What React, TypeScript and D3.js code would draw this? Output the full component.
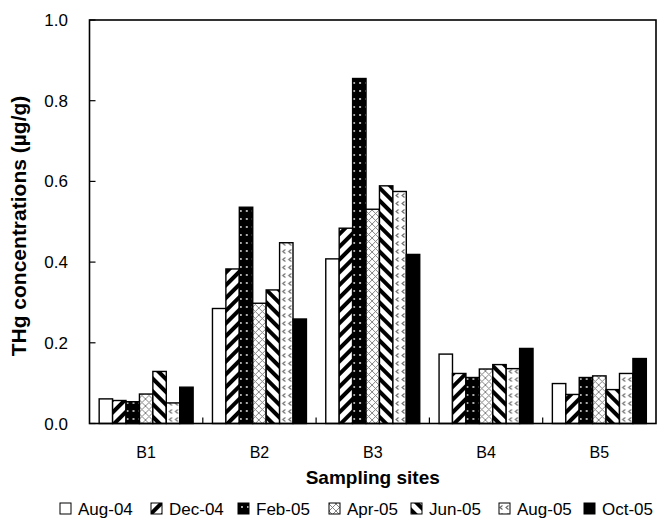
import React from "react";
import * as d3 from "d3";

const sites = ["B1", "B2", "B3", "B4", "B5"];
const seriesNames = ["Aug-04", "Dec-04", "Feb-05", "Apr-05", "Jun-05", "Aug-05", "Oct-05"];
const aug04 = [0.061, 0.285, 0.408, 0.172, 0.099];
const dec04 = [0.057, 0.383, 0.484, 0.124, 0.072];
const feb05 = [0.054, 0.536, 0.855, 0.114, 0.114];
const apr05 = [0.073, 0.298, 0.531, 0.135, 0.118];
const jun05 = [0.129, 0.331, 0.589, 0.146, 0.084];
const aug05 = [0.051, 0.448, 0.575, 0.136, 0.124];
const oct05 = [0.09, 0.259, 0.419, 0.186, 0.161];
const yTicks = [0, 0.2, 0.4, 0.6, 0.8, 1.0];

const seriesValues = [aug04, dec04, feb05, apr05, jun05, aug05, oct05];
const fills = ["#fff", "url(#pDec)", "url(#pFeb)", "url(#pApr)", "url(#pJun)", "url(#pAug5)", "#000"];
const legendX = [60, 151, 238, 329, 411, 499, 584];

export default function App() {
  const W = 665, H = 526;
  const left = 89.5, right = 656, top = 20, bottom = 423.5;
  const x = d3.scaleBand().domain(sites).range([left, right]).paddingInner(0).paddingOuter(0);
  const inner = d3.scaleBand().domain(seriesNames).range([0, x.bandwidth()]).paddingOuter(0.72).paddingInner(0);
  const y = d3.scaleLinear().domain([0, 1]).range([bottom, top]);
  const font = "'Liberation Sans', Arial, sans-serif";

  return (
    <svg width={W} height={H} style={{ position: "absolute", left: 0, top: 0 }} fontFamily={font}>
      <defs>
        <pattern id="pDec" patternUnits="userSpaceOnUse" width="9" height="9" patternTransform="rotate(45)">
          <rect width="9" height="9" fill="#fff" />
          <rect x="0" width="4" height="9" fill="#000" />
        </pattern>
        <pattern id="pJun" patternUnits="userSpaceOnUse" width="9" height="9" patternTransform="rotate(-45)">
          <rect width="9" height="9" fill="#fff" />
          <rect x="0" width="4" height="9" fill="#000" />
        </pattern>
        <pattern id="pFeb" patternUnits="userSpaceOnUse" width="6" height="8">
          <rect width="6" height="8" fill="#000" />
          <circle cx="2" cy="3" r="0.9" fill="#fff" />
        </pattern>
        <pattern id="pApr" patternUnits="userSpaceOnUse" width="7" height="7">
          <rect width="7" height="7" fill="#fff" />
          <path d="M0,0L7,7M7,0L0,7" stroke="#777" strokeWidth="0.9" />
        </pattern>
        <pattern id="pAug5" patternUnits="userSpaceOnUse" width="6" height="8">
          <rect width="6" height="8" fill="#fff" />
          <path d="M4.5,1.5L2,3.5L4.5,5.5" stroke="#666" strokeWidth="1.1" fill="none" />
        </pattern>
      </defs>
      <rect x={0} y={0} width={W} height={H} fill="#fff" />
      {sites.map((s, i) => (
        <g key={s} transform={`translate(${x(s)},0)`}>
          {seriesNames.map((n, j) => {
            const v = seriesValues[j][i];
            return (
              <rect
                key={n}
                x={inner(n)}
                y={y(v)}
                width={inner.bandwidth()}
                height={bottom - y(v)}
                fill={fills[j]}
                stroke="#000"
                strokeWidth={1.4}
              />
            );
          })}
        </g>
      ))}
      <rect x={left} y={top} width={right - left} height={bottom - top} fill="none" stroke="#000" strokeWidth={1.6} />
      {yTicks.map((t) => (
        <g key={t}>
          <line x1={left} x2={left + 6} y1={y(t)} y2={y(t)} stroke="#000" strokeWidth={1.2} />
          <text x={68} y={y(t) + 6} textAnchor="end" fontSize={17} fill="#000">
            {t.toFixed(1)}
          </text>
        </g>
      ))}
      {sites.slice(1).map((s) => (
        <line key={s} x1={x(s)} x2={x(s)} y1={bottom} y2={bottom - 6} stroke="#000" strokeWidth={1.2} />
      ))}
      {sites.map((s) => (
        <text key={s} x={(x(s) as number) + x.bandwidth() / 2} y={458} textAnchor="middle" fontSize={16} fill="#000">
          {s}
        </text>
      ))}
      <text x={(left + right) / 2} y={484} textAnchor="middle" fontSize={19} fontWeight="bold" fill="#000">
        Sampling sites
      </text>
      <text
        transform={`translate(26,226) rotate(-90)`}
        textAnchor="middle"
        fontSize={21}
        fontWeight="bold"
        fill="#000"
      >
        THg concentrations (µg/g)
      </text>
      {seriesNames.map((n, j) => (
        <g key={n}>
          <rect x={legendX[j]} y={503} width={11} height={11} fill={fills[j]} stroke="#000" strokeWidth={1} />
          <text x={legendX[j] + 18} y={515} fontSize={17} fill="#000">
            {n}
          </text>
        </g>
      ))}
    </svg>
  );
}
